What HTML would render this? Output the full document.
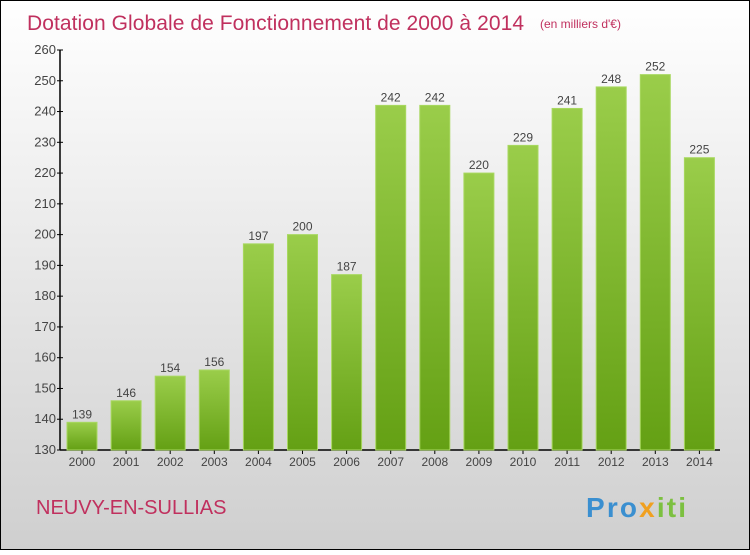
<!DOCTYPE html>
<html><head><meta charset="utf-8"><style>
body{margin:0;width:750px;height:550px;overflow:hidden;font-family:"Liberation Sans",sans-serif}
</style></head><body>
<svg width="750" height="550" xmlns="http://www.w3.org/2000/svg">
<defs>
<linearGradient id="bg" x1="0" y1="0" x2="0" y2="1"><stop offset="0" stop-color="#ffffff"/><stop offset="1" stop-color="#cfcfcf"/></linearGradient>
<linearGradient id="bar" x1="0" y1="0" x2="0" y2="1"><stop offset="0" stop-color="#9acd4a"/><stop offset="1" stop-color="#64a014"/></linearGradient>
</defs>
<rect x="0.5" y="0.5" width="749" height="549" fill="url(#bg)" stroke="#000"/>
<text x="27" y="30" font-size="21" fill="#c0305e" textLength="497">Dotation Globale de Fonctionnement de 2000 à 2014</text>
<text x="540" y="28" font-size="12" fill="#c0305e">(en milliers d'€)</text>
<g id="axes"></g>
<g id="bars"></g>
<text x="36" y="514" font-size="20" fill="#c0305e">NEUVY-EN-SULLIAS</text>
<text x="586" y="517" font-size="28" font-weight="bold" fill="#3a8fd0" textLength="100">Pro<tspan fill="#f0a020">x</tspan><tspan fill="#7cc040">iti</tspan></text>
</svg>
<script>
const years=["2000","2001","2002","2003","2004","2005","2006","2007","2008","2009","2010","2011","2012","2013","2014"];
const values=[139,146,154,156,197,200,187,242,242,220,229,241,248,252,225];
const yTicks=[130,140,150,160,170,180,190,200,210,220,230,240,250,260];
const NS="http://www.w3.org/2000/svg";
const y0=450,y1=50,vmin=130,vmax=260,x0=60;
const yS=v=>y0-(v-vmin)/(vmax-vmin)*(y0-y1);
const xS=i=>82+i*44.1;
function mk(t,a,p){const e=document.createElementNS(NS,t);for(const k in a)e.setAttribute(k,a[k]);p.appendChild(e);return e;}
const ax=document.getElementById('axes'),bg=document.getElementById('bars');
let l=mk('line',{x1:x0,y1:y1,x2:x0,y2:y0,stroke:'#000','stroke-width':1.5},ax);


l=mk('line',{x1:x0,y1:y0,x2:720,y2:y0,stroke:'#000','stroke-width':1.5},ax);


yTicks.forEach(v=>{
 const y=yS(v);
 const t=mk('line',{x1:x0-3,y1:y,x2:x0+3,y2:y,stroke:'#000'},ax);
 
 
 const tx=mk('text',{x:x0-4,y:y+4,'font-size':13,'text-anchor':'end',fill:'#444'},ax);
 tx.textContent=v;
 
 
});
years.forEach((yr,i)=>{
 const cx=xS(i),v=values[i];
 const r=mk('rect',{x:cx-15,y:yS(v),width:30,height:y0-yS(v),fill:'url(#bar)',stroke:'#a8d860','stroke-width':1},bg);
 
 
 const t=mk('line',{x1:cx,y1:y0,x2:cx,y2:y0+4,stroke:'#000'},ax);
 
 
 const xl=mk('text',{x:cx,y:y0+16,'font-size':12,'text-anchor':'middle',fill:'#444'},ax);
 xl.textContent=yr;
 
 
 const vl=mk('text',{x:cx,y:yS(v)-4,'font-size':12,'text-anchor':'middle',fill:'#444'},bg);
 vl.textContent=v;
 
 
});
</script>
</body></html>
